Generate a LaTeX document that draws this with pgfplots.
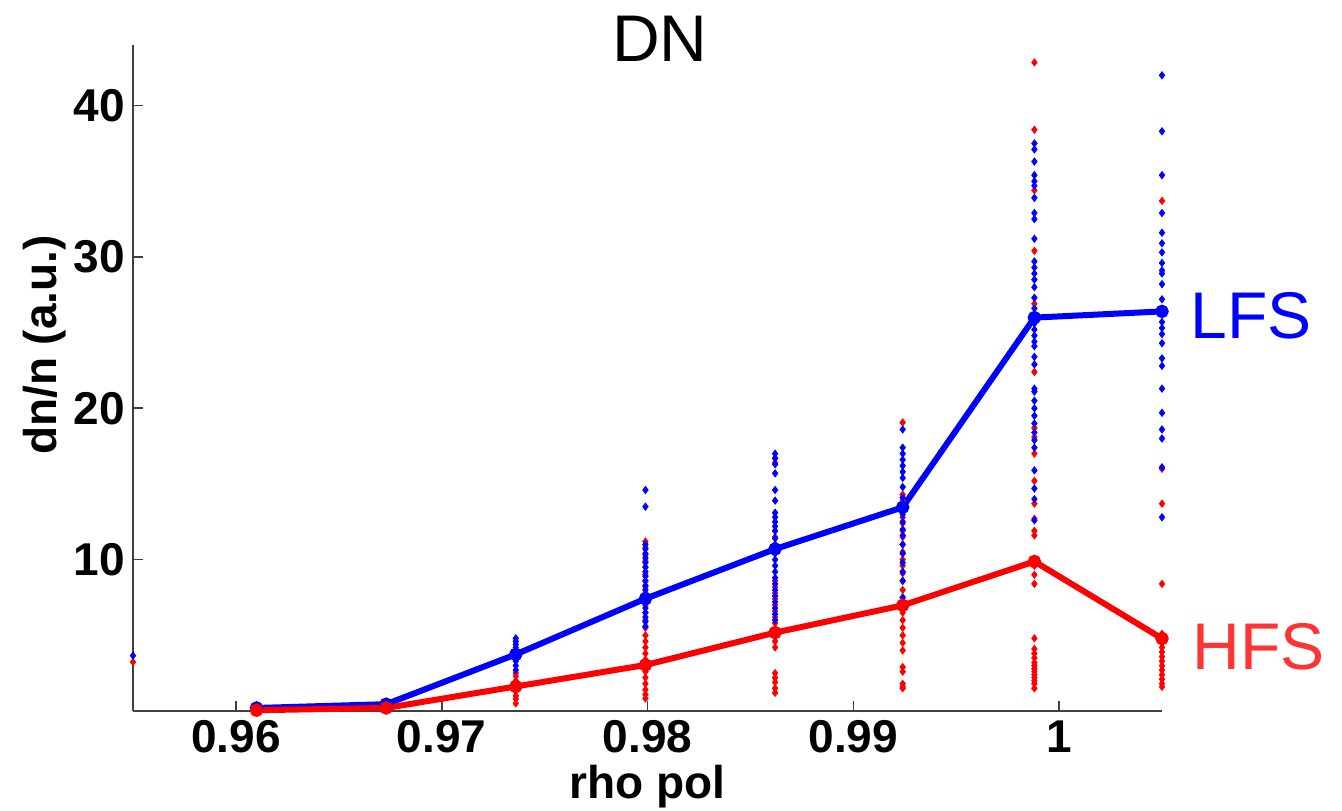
\documentclass[border=0pt]{standalone}
\usepackage{fontspec}
\setmainfont{Liberation Sans}
\usepackage{pgfplots}
\pgfplotsset{compat=1.18}
\definecolor{mblue}{RGB}{0,0,255}
\definecolor{mred}{RGB}{255,0,0}
\definecolor{hfs}{RGB}{255,51,51}
\definecolor{axgray}{RGB}{64,64,64}
\begin{document}
\begin{tikzpicture}
\path[use as bounding box] (-66.5bp,-50bp) rectangle (604.5bp,355.5bp);
\begin{axis}[
  scale only axis,
  width=514.5bp, height=333bp,
  xmin=0.955, xmax=1.005, ymin=0, ymax=44,
  axis x line*=bottom, axis y line*=left,
  axis line style={axgray, line width=0.8bp},
  tick style={axgray, line width=0.8bp},
  tick align=inside, major tick length=5bp,
  xtick={0.96,0.97,0.98,0.99,1},
  xticklabels={0.96,0.97,0.98,0.99,1},
  ytick={10,20,30,40},
  /pgf/number format/assume math mode=true,
  ticklabel style={font=\fontsize{23bp}{25bp}\selectfont\bfseries},
  xticklabel style={inner sep=0pt, yshift=-4.5bp},
  yticklabel style={inner sep=0pt, xshift=-4bp},
  clip=false,
  every axis x label/.style={at={(axis description cs:0.5,-0.1321)}, anchor=base},
  every axis y label/.style={at={(axis description cs:-0.0739,0.5495)}, rotate=90, anchor=base},
  label style={font=\fontsize{23bp}{25bp}\selectfont\bfseries},
  xlabel={rho pol},
  ylabel={dn/n (a.u.)},
  scatpt/.style={only marks, mark=diamond*, mark size=1.8bp},
]
% red scatter
\addplot[scatpt, color=mred] coordinates {
(0.9550,3.24)
(0.9610,0.05) (0.9673,0.2)
(0.9736,2.5) (0.9736,2.3) (0.9736,2.0) (0.9736,1.8) (0.9736,1.5) (0.9736,1.3) (0.9736,1.0) (0.9736,0.8) (0.9736,0.5)
(0.9799,11.2) (0.9799,10.8) (0.9799,10.3) (0.9799,9.9) (0.9799,9.5) (0.9799,9.0) (0.9799,8.6) (0.9799,8.2) (0.9799,7.8) (0.9799,7.0) (0.9799,6.5) (0.9799,6.0) (0.9799,5.5) (0.9799,5.0) (0.9799,4.6) (0.9799,4.2) (0.9799,3.8) (0.9799,3.4) (0.9799,3.0) (0.9799,2.6) (0.9799,2.2) (0.9799,1.8) (0.9799,1.4) (0.9799,1.1) (0.9799,0.83)
(0.9862,16.7) (0.9862,16.4) (0.9862,11.5) (0.9862,10.6) (0.9862,8.6) (0.9862,8.2) (0.9862,7.8) (0.9862,7.4) (0.9862,7.0) (0.9862,6.6) (0.9862,6.2) (0.9862,5.8) (0.9862,5.4) (0.9862,5.0) (0.9862,4.6) (0.9862,4.2) (0.9862,2.5) (0.9862,2.2) (0.9862,1.9) (0.9862,1.5) (0.9862,1.2)
(0.9924,19.06) (0.9924,14.3) (0.9924,13.9) (0.9924,13.5) (0.9924,13.2) (0.9924,12.8) (0.9924,12.4) (0.9924,11.9) (0.9924,11.5) (0.9924,11.0) (0.9924,10.5) (0.9924,10.0) (0.9924,9.6) (0.9924,9.1) (0.9924,8.6) (0.9924,8.0) (0.9924,7.5) (0.9924,7.0) (0.9924,6.5) (0.9924,6.0) (0.9924,5.5) (0.9924,5.0) (0.9924,4.5) (0.9924,4.0) (0.9924,2.9) (0.9924,2.6) (0.9924,1.8) (0.9924,1.6) (0.9924,1.5)
(0.9988,42.85) (0.9988,38.4) (0.9988,34.4) (0.9988,30.4) (0.9988,26.9) (0.9988,25.99) (0.9988,22.4) (0.9988,18.7) (0.9988,18.1) (0.9988,17.0) (0.9988,15.2) (0.9988,13.7) (0.9988,12.7) (0.9988,11.9) (0.9988,11.6) (0.9988,9.88) (0.9988,9.6) (0.9988,9.0) (0.9988,8.4) (0.9988,4.8) (0.9988,4.1) (0.9988,3.8) (0.9988,3.5) (0.9988,3.2) (0.9988,3.0) (0.9988,2.8) (0.9988,2.6) (0.9988,2.4) (0.9988,2.2) (0.9988,2.0) (0.9988,1.8) (0.9988,1.5)
(1.0050,33.7) (1.0050,16.0) (1.0050,13.7) (1.0050,8.4) (1.0050,5.1) (1.0050,4.8) (1.0050,4.5) (1.0050,4.2) (1.0050,3.9) (1.0050,3.6) (1.0050,3.3) (1.0050,3.0) (1.0050,2.7) (1.0050,2.4) (1.0050,2.1) (1.0050,1.8) (1.0050,1.6)
};
% blue scatter
\addplot[scatpt, color=mblue] coordinates {
(0.9550,3.66)
(0.9610,0.2) (0.9673,0.45)
(0.9736,4.8) (0.9736,4.6) (0.9736,4.4) (0.9736,4.2) (0.9736,3.9) (0.9736,3.7) (0.9736,3.5) (0.9736,3.3) (0.9736,3.0) (0.9736,2.7)
(0.9799,14.6) (0.9799,13.5) (0.9799,11.0) (0.9799,10.7) (0.9799,10.4) (0.9799,10.1) (0.9799,9.8) (0.9799,9.5) (0.9799,9.2) (0.9799,8.9) (0.9799,8.6) (0.9799,8.3) (0.9799,8.0) (0.9799,7.7) (0.9799,7.4) (0.9799,7.1) (0.9799,6.8) (0.9799,6.5) (0.9799,6.2) (0.9799,5.9) (0.9799,5.6)
(0.9862,17.0) (0.9862,16.7) (0.9862,16.3) (0.9862,15.7) (0.9862,14.6) (0.9862,13.9) (0.9862,13.1) (0.9862,12.8) (0.9862,12.5) (0.9862,12.2) (0.9862,11.9) (0.9862,11.4) (0.9862,11.0) (0.9862,10.4) (0.9862,10.0) (0.9862,9.6) (0.9862,9.2) (0.9862,8.8) (0.9862,8.4) (0.9862,8.0) (0.9862,7.6) (0.9862,7.2) (0.9862,6.8) (0.9862,6.4) (0.9862,6.0)
(0.9924,18.6) (0.9924,17.4) (0.9924,17.0) (0.9924,16.6) (0.9924,16.2) (0.9924,15.8) (0.9924,15.4) (0.9924,14.8) (0.9924,14.1) (0.9924,13.5) (0.9924,13.0) (0.9924,12.5) (0.9924,12.0) (0.9924,11.6) (0.9924,11.0) (0.9924,10.4) (0.9924,9.8) (0.9924,9.2) (0.9924,8.6) (0.9924,7.5)
(0.9988,37.5) (0.9988,37.1) (0.9988,36.3) (0.9988,35.4) (0.9988,35.0) (0.9988,34.7) (0.9988,33.9) (0.9988,32.9) (0.9988,32.5) (0.9988,31.2) (0.9988,29.7) (0.9988,29.3) (0.9988,28.9) (0.9988,28.5) (0.9988,28.0) (0.9988,27.3) (0.9988,26.6) (0.9988,25.6) (0.9988,25.2) (0.9988,24.8) (0.9988,24.4) (0.9988,24.1) (0.9988,23.4) (0.9988,22.9) (0.9988,21.3) (0.9988,21.1) (0.9988,20.5) (0.9988,20.0) (0.9988,19.5) (0.9988,19.0) (0.9988,18.4) (0.9988,17.9) (0.9988,17.4) (0.9988,15.9) (0.9988,14.7) (0.9988,14.0) (0.9988,12.6)
(1.0050,42.0) (1.0050,38.3) (1.0050,35.4) (1.0050,32.9) (1.0050,31.6) (1.0050,30.9) (1.0050,30.3) (1.0050,29.6) (1.0050,29.1) (1.0050,28.9) (1.0050,28.2) (1.0050,27.2) (1.0050,25.7) (1.0050,25.3) (1.0050,24.9) (1.0050,24.3) (1.0050,23.3) (1.0050,22.8) (1.0050,21.3) (1.0050,19.7) (1.0050,18.6) (1.0050,18.0) (1.0050,16.1) (1.0050,12.8)
};
% mean lines
\addplot[mblue, line width=3bp, mark=*, mark size=1.8bp] coordinates {
(0.9610,0.2) (0.9673,0.45) (0.9736,3.74) (0.9799,7.42) (0.9862,10.7) (0.9924,13.46) (0.9988,25.99) (1.0050,26.4)
};
\addplot[mred, line width=3bp, mark=*, mark size=1.8bp] coordinates {
(0.9610,0.05) (0.9673,0.2) (0.9736,1.62) (0.9799,3.04) (0.9862,5.18) (0.9924,6.98) (0.9988,9.88) (1.0050,4.79)
};
\node[anchor=base, font=\fontsize{33bp}{36bp}\selectfont] at (axis description cs:0.512,0.9745) {DN};
\node[anchor=base west, inner sep=0pt, text=mblue, font=\fontsize{33bp}{36bp}\selectfont] at (axis description cs:1.0272,0.560) {LFS};
\node[anchor=base west, inner sep=0pt, text=hfs, font=\fontsize{33bp}{36bp}\selectfont] at (axis description cs:1.0292,0.0616) {HFS};
\end{axis}
\end{tikzpicture}
\end{document}
